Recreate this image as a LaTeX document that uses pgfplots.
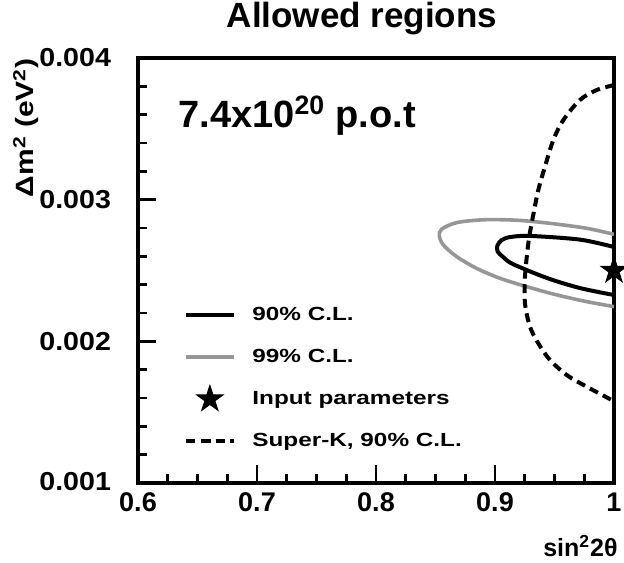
\documentclass[border=0pt]{standalone}
\usepackage{fontspec}
\setmainfont{Liberation Sans}
\newfontfamily\legfont{Liberation Sans}[FakeStretch=1.28]
\newfontfamily\ylfont{Liberation Sans}[FakeStretch=1.2]
\newfontfamily\ytfont{Liberation Sans}[FakeStretch=1.1]
\usepackage{pgfplots}
\pgfplotsset{compat=1.18}
\definecolor{cl99}{RGB}{150,150,150}
\pgfdeclareplotmark{fstar}{%
  \pgfpathmoveto{\pgfpointpolar{90}{\pgfplotmarksize}}%
  \pgfpathlineto{\pgfpointpolar{126}{0.382\pgfplotmarksize}}%
  \pgfpathlineto{\pgfpointpolar{162}{\pgfplotmarksize}}%
  \pgfpathlineto{\pgfpointpolar{198}{0.382\pgfplotmarksize}}%
  \pgfpathlineto{\pgfpointpolar{234}{\pgfplotmarksize}}%
  \pgfpathlineto{\pgfpointpolar{270}{0.382\pgfplotmarksize}}%
  \pgfpathlineto{\pgfpointpolar{306}{\pgfplotmarksize}}%
  \pgfpathlineto{\pgfpointpolar{342}{0.382\pgfplotmarksize}}%
  \pgfpathlineto{\pgfpointpolar{18}{\pgfplotmarksize}}%
  \pgfpathlineto{\pgfpointpolar{54}{0.382\pgfplotmarksize}}%
  \pgfpathclose
  \pgfusepathqfillstroke
}
\begin{document}
\begin{tikzpicture}
\begin{axis}[
  name=ax,
  scale only axis, width=238pt, height=212.5pt,
  xmin=0.6, xmax=1.0, ymin=0.001, ymax=0.004,
  axis line style={line width=2pt},
  every tick/.style={black, line width=1.3pt},
  major tick length=9pt, minor tick length=4.5pt,
  tick align=inside, tick pos=left,
  scaled x ticks=false, scaled y ticks=false,
  xtick={0.6,0.7,0.8,0.9,1.0}, xticklabels={0.6,0.7,0.8,0.9,1},
  ytick={0.001,0.002,0.003,0.004},
  yticklabels={\raisebox{1.5pt}{0.001},0.002,0.003,0.004},
  minor x tick num=3, minor y tick num=4,
  x tick label style={font=\bfseries\fontsize{13.5}{16}\selectfont, yshift=-1.5pt},
  y tick label style={font=\ytfont\bfseries\fontsize{13}{16}\selectfont, xshift=-10pt},
  title={Allowed regions},
  title style={at={(rel axis cs:0.4706,1.0424)}, anchor=base, inner sep=0pt,
    font=\bfseries\fontsize{17.5}{20}\selectfont},
  xlabel={sin\textsuperscript{2}2θ},
  xlabel style={at={(rel axis cs:1.0084,-0.1725)}, anchor=base east, inner sep=0pt,
    font=\bfseries\fontsize{12.5}{15}\selectfont},
  ylabel={Δm\textsuperscript{2} (eV\textsuperscript{2})},
  ylabel style={at={(rel axis cs:-0.2185,1)}, anchor=base east, inner sep=0pt,
    font=\ylfont\bfseries\fontsize{12.5}{15}\selectfont},
  legend image code/.code={\draw[mark repeat=2,mark phase=2,#1] plot coordinates {(0pt,0pt) (11.75pt,0pt) (23.5pt,0pt)};},
  legend style={draw=none, fill=none, at={(rel axis cs:0.0966,0.4358)}, anchor=north west,
    font=\legfont\bfseries\fontsize{9.5}{11}\selectfont, row sep=4pt, inner sep=0pt,
    nodes={inner sep=1pt, text height=10pt, text depth=5pt},
    /tikz/every odd column/.append style={column sep=7.5pt}},
  legend cell align=left,
]
\addplot[black, line width=2pt, smooth] coordinates {
(1.0,0.002666) (0.9714,0.002718) (0.9294,0.002744) (0.9126,0.002736) (0.9055,0.002714)
(0.9020,0.002676) (0.9022,0.002634) (0.9070,0.002594) (0.9151,0.002545) (0.9437,0.002447)
(0.9714,0.002376) (1.0,0.002327)};
\addlegendentry{90\% C.L.}
\addplot[cl99, line width=1.8pt, smooth] coordinates {
(1.0,0.002755) (0.977,0.002798) (0.9462,0.002833) (0.9182,0.002855) (0.8902,0.002858)
(0.8678,0.002838) (0.8552,0.002792) (0.8532,0.002744) (0.8566,0.00268) (0.8678,0.002598)
(0.8846,0.002515) (0.9042,0.002445) (0.9266,0.002386) (0.949,0.002334) (0.9742,0.002285)
(1.0,0.002245)};
\addlegendentry{99\% C.L.}
\addplot[only marks, mark=fstar, mark size=7pt, mark options={fill=black, draw=black, line width=0.4pt}] coordinates {(1.0,0.0025)};
\addlegendentry{Input parameters}
\addplot[black, line width=2pt, dash pattern=on 4.5pt off 2.8pt, smooth] coordinates {
(1.0,0.003809) (0.9855,0.003774) (0.9714,0.003704) (0.9574,0.003562) (0.949,0.003421)
(0.942,0.003233) (0.9364,0.003068) (0.9308,0.002833) (0.928,0.002692) (0.9252,0.002456)
(0.9252,0.002268) (0.9294,0.002103) (0.9364,0.001986) (0.9462,0.001868) (0.9603,0.001762)
(0.977,0.00168) (0.998,0.001586)};
\addlegendentry{Super-K, 90\% C.L.}
\node[anchor=base west, inner sep=0pt, font=\bfseries\fontsize{19}{22}\selectfont]
  at (rel axis cs:0.084,0.8376) {7.4x10\textsuperscript{20} p.o.t};
\end{axis}
\pgfresetboundingbox
\path ([xshift=-69pt,yshift=-39.5pt]ax.south west) rectangle ([xshift=5pt,yshift=29pt]ax.north east);
\end{tikzpicture}
\end{document}
